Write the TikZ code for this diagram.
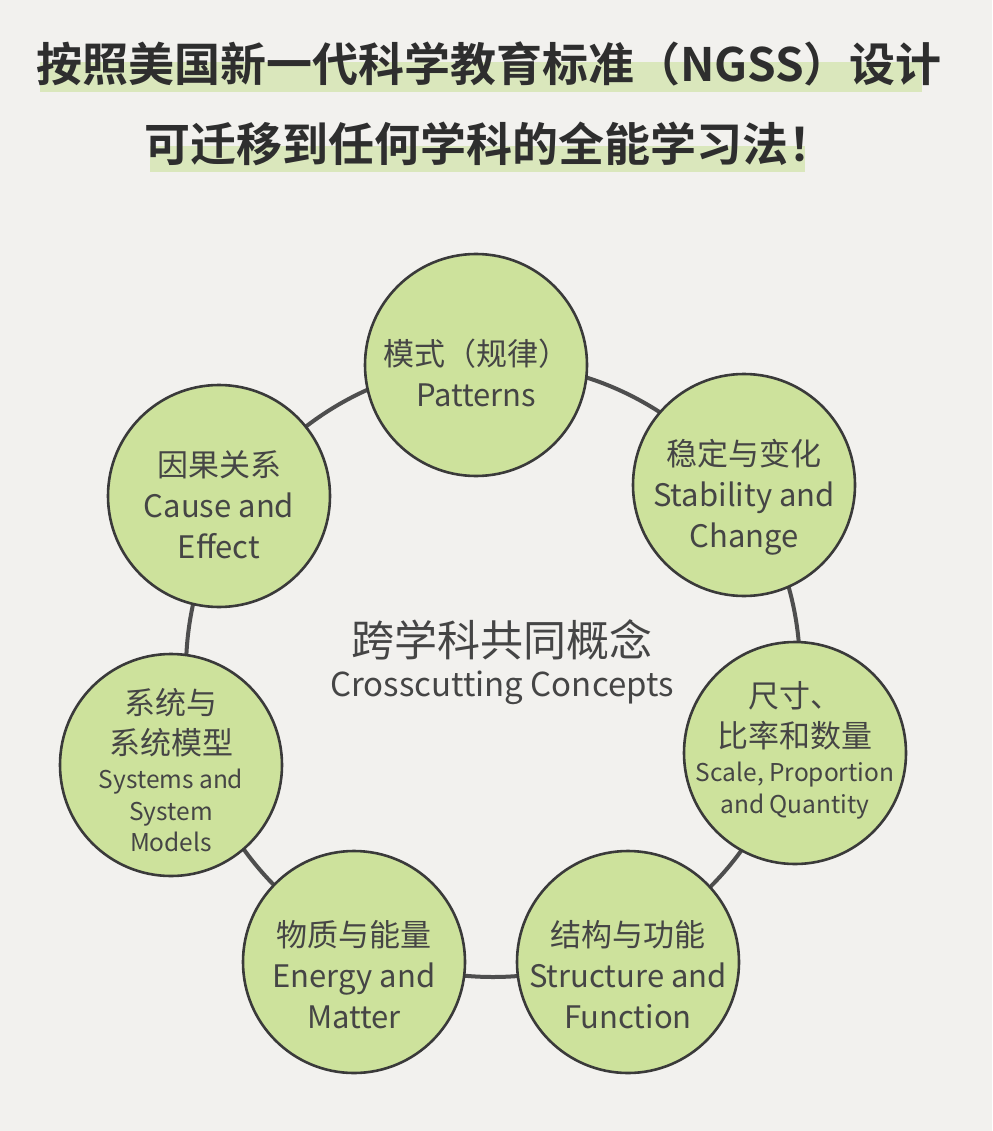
\documentclass[tikz,border=0pt]{standalone}
\usepackage{fontspec}
\setmainfont{Noto Sans CJK SC}[BoldFont={Noto Sans CJK SC Bold}]
\usepackage{xcolor}
\usetikzlibrary{positioning, calc}

\definecolor{paper}{HTML}{F2F1EE}
\definecolor{leaf}{HTML}{CDE29C}
\definecolor{ink}{HTML}{454545}
\definecolor{rim}{HTML}{3A3A3A}
\definecolor{marker}{HTML}{D6E6B4}

\newcommand{\zh}[1]{{\fontsize{31}{40}\selectfont #1}}

\begin{document}
\begin{tikzpicture}[
        x=1pt, y=-1pt,
        % ---- 预定义样式 ----
        concept/.style = {draw=rim, circle, line width=2.6pt, fill=leaf, minimum size=222pt, inner sep=0pt},
        big/.style = {align=center, text=ink, inner sep=0pt, font=\fontsize{31}{41}\selectfont},
        small/.style = {align=center, text=ink, inner sep=0pt, font=\fontsize{24.5}{31.5}\selectfont},
        headline/.style = {font=\bfseries\fontsize{46}{50}\selectfont, text=black!82},
        ring/.style = {draw=rim!90, line width=4pt}
    ]

    % ===================== 背景 =====================
    \useasboundingbox[fill=paper] (0,0) rectangle (992,1131);

    % ===================== 标题 =====================
    \fill[marker, opacity=0.85] (40,62) rectangle (922,92);
    \fill[marker, opacity=0.85] (150,146) rectangle (805,172);
    \node[headline] (title1) at (489,64) {按照美国新一代科学教育标准（NGSS）设计};
    \node[headline] (title2) at (489,144) {可迁移到任何学科的全能学习法！};

    % ===================== 圆环 =====================
    \coordinate (hub) at (493,670);
    \draw[ring] (hub) circle[radius=307];

    % ---- 七个概念 ----
    \node[concept] (pat) at (476,365) {};
    \node[big] (pat-t) at ($(pat)+(0,8)$) {模式（规律）\\Patterns};

    \node[concept] (stab) at (744,485) {};
    \node[big] (stab-t) at ($(stab)+(0,12)$) {稳定与变化\\Stability and\\Change};

    \node[concept] (scale) at (795,753) {};
    \node[small] (scale-t) at ($(scale)+(0,-3)$)
        {\zh{尺寸、}\\[8.5pt]\zh{比率和数量}\\[3pt]Scale, Proportion\\and Quantity};

    \node[concept] (struct) at (628,962) {};
    \node[big] (struct-t) at ($(struct)+(0,13)$) {结构与功能\\Structure and\\Function};

    \node[concept] (energy) at (354,962) {};
    \node[big] (energy-t) at ($(energy)+(0,13)$) {物质与能量\\Energy and\\Matter};

    \node[concept] (sys) at (171,765) {};
    \node[small] (sys-t) at ($(sys)+(0,5)$)
        {\zh{系统与}\\[8.5pt]\zh{系统模型}\\[3pt]Systems and\\System\\Models};

    \node[concept] (cause) at (219,496) {};
    \node[big] (cause-t) at ($(cause)+(0,9)$) {因果关系\\Cause and\\Effect};

    % 中心文字
    \node[align=center, text=ink, font=\fontsize{33}{37}\selectfont] (core) at (502,662)
        {{\fontsize{43}{48}\selectfont 跨学科共同概念}\\[3pt]Crosscutting Concepts};

\end{tikzpicture}
\end{document}
